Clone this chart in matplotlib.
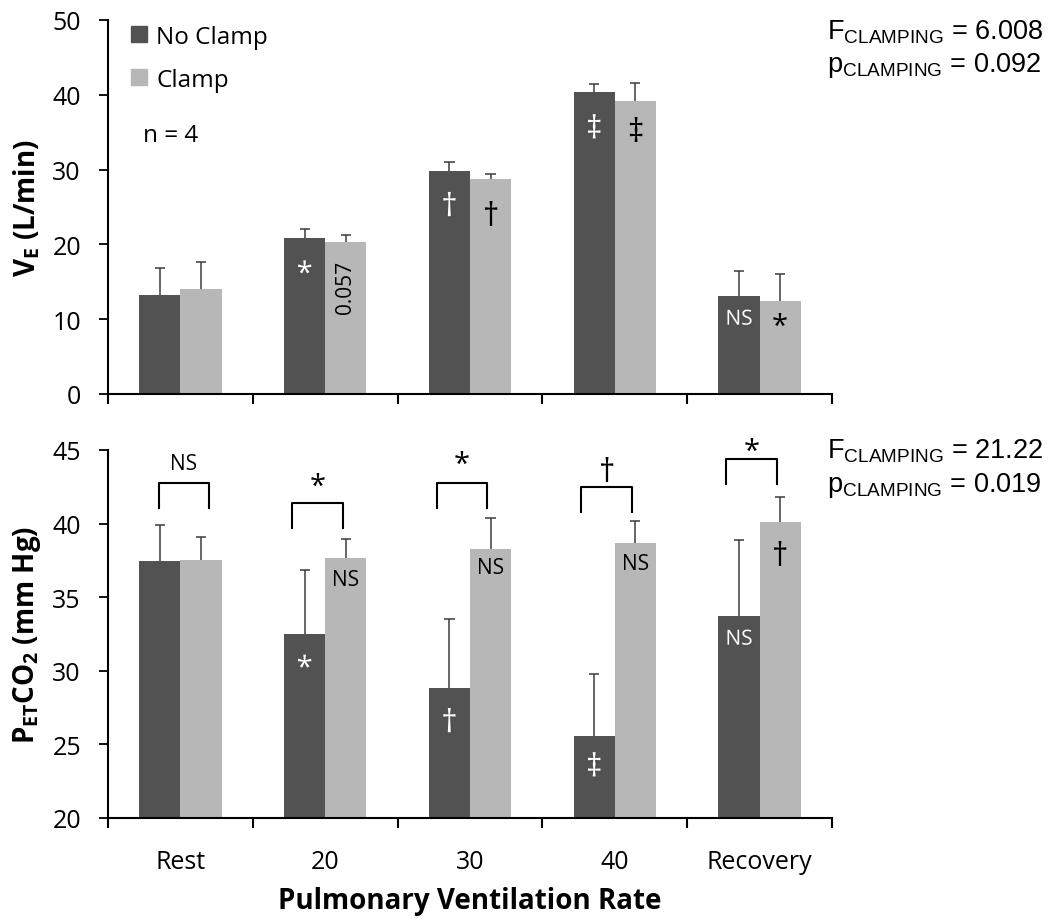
import matplotlib.pyplot as plt
import matplotlib.patheffects as pe
from matplotlib.patches import Patch
import numpy as np

# stages and group means / upper SD for each condition
stages = ['Rest', '20', '30', '40', 'Recovery']

ve_noclamp = [13.2, 20.8, 29.8, 40.4, 13.1]
ve_noclamp_sd = [3.6, 1.3, 1.2, 1.0, 3.3]
ve_clamp = [14.0, 20.3, 28.7, 39.2, 12.4]
ve_clamp_sd = [3.6, 1.0, 0.7, 2.4, 3.6]

pet_noclamp = [37.45, 32.5, 28.8, 25.6, 33.7]
pet_noclamp_sd = [2.45, 4.35, 4.7, 4.2, 5.2]
pet_clamp = [37.5, 37.65, 38.3, 38.7, 40.1]
pet_clamp_sd = [1.6, 1.3, 2.1, 1.5, 1.7]

# significance marks: (text, y) inside bars
ve_marks_noclamp = [None, ('*', 15.9), ('†', 24.9), ('‡', 35.3), ('NS', 10.0)]
ve_marks_clamp = [None, ('0.057', 14.4), ('†', 23.7), ('‡', 35.0), ('*', 9.0)]
pet_marks_noclamp = [None, ('*', 30.1), ('†', 26.4), ('‡', 23.4), ('NS', 32.15)]
pet_marks_clamp = [None, ('NS', 36.2), ('NS', 37.0), ('NS', 37.3), ('†', 37.75)]

# between-condition comparison above each pair
pair_labels = ['NS', '*', '*', '†', '*']
pair_label_y = [44.1, 42.55, 44.05, 43.45, 44.9]
pair_bracket_top = [42.75, 41.4, 42.75, 42.5, 44.4]

stats_ve = ('6.008', '0.092')
stats_pet = ('21.22', '0.019')

dark = '#525252'
light = '#b7b7b7'
err_color = '#3c3c3c'

plt.rcParams['font.family'] = ['Open Sans', 'DejaVu Sans']
plt.rcParams['mathtext.default'] = 'regular'

fig = plt.figure(figsize=(10.6, 9.2), dpi=100)
ax1 = fig.add_axes([0.1019, 0.5707, 0.6830, 0.4065])
ax2 = fig.add_axes([0.1019, 0.1098, 0.6830, 0.4000])

x = np.arange(len(stages))
w = 0.284
shadow = [pe.SimplePatchShadow(offset=(1.2, -1.2), alpha=0.6), pe.Normal()]


def bars(ax, a, a_sd, b, b_sd):
    ax.bar(x - w / 2, a, w, color=dark, zorder=2)
    ax.bar(x + w / 2, b, w, color=light, zorder=2)
    for xs, m, sd in ((x - w / 2, a, a_sd), (x + w / 2, b, b_sd)):
        m = np.array(m)
        top = m + np.array(sd)
        ax.vlines(xs, m, top, color=err_color, lw=1.1, zorder=3)
        ax.hlines(top, xs - 0.035, xs + 0.035, color=err_color, lw=1.1, zorder=3)


def mark_size(s):
    if s in ('NS', '0.057'):
        return 15
    return 21 if s == '*' else 23


def marks(ax, dark_marks, light_marks):
    for i in range(len(stages)):
        if dark_marks[i]:
            s, yy = dark_marks[i]
            ax.text(x[i] - w / 2, yy, s, color='white', ha='center', va='center',
                    fontsize=mark_size(s), path_effects=shadow, zorder=4)
        if light_marks[i]:
            s, yy = light_marks[i]
            rot = 90 if s == '0.057' else 0
            ax.text(x[i] + w / 2, yy, s, color='black', ha='center', va='center',
                    fontsize=mark_size(s), rotation=rot, zorder=4)


def style(ax, lo, hi, step):
    ax.set_xlim(-0.5, 4.5)
    ax.set_ylim(lo, hi)
    ax.set_yticks(np.arange(lo, hi + 1, step))
    for s in ('top', 'right'):
        ax.spines[s].set_visible(False)
    for s in ('left', 'bottom'):
        ax.spines[s].set_linewidth(1.5)
    ax.set_xticks(np.arange(-0.5, 5, 1), minor=True)
    ax.set_xticks(x)
    ax.tick_params(axis='x', which='major', length=0, pad=22, labelsize=18)
    ax.tick_params(axis='x', which='minor', length=7, width=1.5, direction='out')
    ax.tick_params(axis='y', length=6.5, width=1.3, pad=13, labelsize=18)


bars(ax1, ve_noclamp, ve_noclamp_sd, ve_clamp, ve_clamp_sd)
marks(ax1, ve_marks_noclamp, ve_marks_clamp)
style(ax1, 0, 50, 10)
ax1.set_xticklabels([])
ax1.set_ylabel('$V_E$ (L/min)', fontsize=20, fontweight='bold', labelpad=7)

bars(ax2, pet_noclamp, pet_noclamp_sd, pet_clamp, pet_clamp_sd)
marks(ax2, pet_marks_noclamp, pet_marks_clamp)
style(ax2, 20, 45, 5)
ax2.set_xticklabels(stages)
ax2.set_ylabel('$P_{ET}CO_2$ (mm Hg)', fontsize=20, fontweight='bold', labelpad=7)
ax2.set_xlabel('Pulmonary Ventilation Rate', fontsize=20, fontweight='bold', labelpad=9)

# brackets between paired bars
for i, (lab, ly, top) in enumerate(zip(pair_labels, pair_label_y, pair_bracket_top)):
    left, right = (x[i] - 0.15, x[i] + 0.20) if i == 0 else (x[i] - 0.23, x[i] + 0.12)
    ax2.plot([left, left, right, right], [top - 1.7, top, top, top - 1.7],
             color='black', lw=1.5, clip_on=False, zorder=4)
    ax2.text((left + right) / 2, ly, lab, ha='center', va='center',
             fontsize=mark_size(lab), clip_on=False)

# legend and sample size
handles = [Patch(color=dark, label='No Clamp'), Patch(color=light, label='Clamp')]
fig.legend(handles=handles, loc='upper left', bbox_to_anchor=(0.1236, 0.972),
           frameon=False, fontsize=17.5, handlelength=0.66, handleheight=0.66,
           handletextpad=0.37, labelspacing=0.78, borderpad=0, borderaxespad=0)
fig.text(0.135, 0.852, 'n = 4', fontsize=17.5, ha='left', va='center')

# ANOVA results
for (f, p), yf, yp in ((stats_ve, 0.9576, 0.9217), (stats_pet, 0.5011, 0.4652)):
    fig.text(0.780, yf, '$F_{CLAMPING}$ = ' + f, fontsize=19.5,
             family='Liberation Sans', va='baseline')
    fig.text(0.780, yp, '$p_{CLAMPING}$ = ' + p, fontsize=19.5,
             family='Liberation Sans', va='baseline')

fig.savefig('out.png', dpi=100)
